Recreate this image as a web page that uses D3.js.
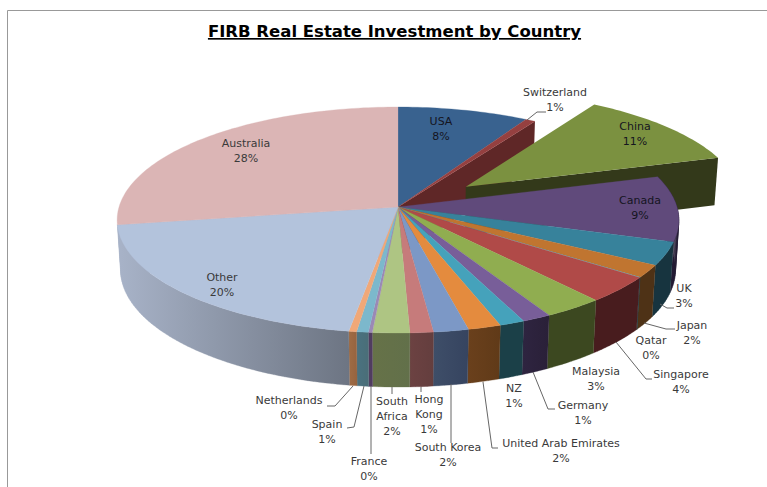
<!DOCTYPE html>
<html><head><meta charset="utf-8">
<style>html,body{margin:0;padding:0;background:#fff}svg{display:block}</style>
<script src="https://cdn.jsdelivr.net/npm/d3@7"></script></head>
<body><svg id="c" width="767" height="487"></svg>
<script>
const titleText = "FIRB Real Estate Investment by Country";
const categories = ["USA","Switzerland","China","Canada","UK","Japan","Qatar","Singapore","Malaysia","Germany","NZ","United Arab Emirates","South Korea","Hong Kong","South Africa","France","Spain","Netherlands","Other","Australia"];
const values = [8.4,0.65,11.45,9.4,3.3,1.8,0.05,3.75,3.1,1.5,1.3,1.7,1.8,1.2,1.9,0.2,0.6,0.4,20,27.5];
const percentLabels = ["8%","1%","11%","9%","3%","2%","0%","4%","3%","1%","1%","2%","2%","1%","2%","0%","1%","0%","20%","28%"];
const topColors = ["#39628f","#954040","#7b9140","#604a7b","#37829b","#c07530","#4bacc6","#b04a48","#90ad50","#785e99","#45a2bb","#e48b3e","#7c98c6","#c67b7b","#aec583","#9b89b5","#7cb8cc","#f0a878","#b3c3dc","#dbb5b5"];
const wallLeft = ["#1f3550","#5f2727","#33391a","#2a1f3c","#17343f","#4e3216","#1b4048","#481c1e","#3c4820","#2e2440","#1b4048","#6a401c","#3e4e68","#6c4242","#667248","#503c60","#4a7280","#a06c44","#a8b3c8","#b09090"];
const wallRight = ["#1f3550","#5f2727","#33391a","#201830","#17343f","#4e3216","#1b4048","#481c1e","#3c4820","#2a2038","#1b4048","#603a18","#364460","#643e3e","#62704a","#503c60","#4a6e78","#966440","#6d7583","#b09090"];
const explodeBy = {China: 0.31};
const darkLabels = ["USA","China","Canada"];

// label layout: [centre x, first line y], wrapped lines, leader polyline
const labelLines = {"Hong Kong":["Hong","Kong"],"South Africa":["South","Africa"]};
const labelPos = {USA:[441,122],Switzerland:[555,93],China:[635,127],Canada:[640,201],UK:[684,289],Japan:[692,326],Qatar:[651,341],Singapore:[681,375],Malaysia:[596,372],Germany:[583,406],NZ:[514,389],"United Arab Emirates":[561,444],"South Korea":[448,448],"Hong Kong":[429,400],"South Africa":[392,402],France:[369,462],Spain:[327,425],Netherlands:[289,401],Other:[222,278],Australia:[246,144]};
const leaders = [
 [[527,120],[537,112],[546,112]],
 [[660,304],[667,308],[674,308]],
 [[644,323],[666,329],[675,329]],
 [[616,342],[646,379],[652,379]],
 [[533,372],[548,409],[555,409]],
 [[483,382],[492,448],[498,448]],
 [[451,384],[451,443]],
 [[421,387],[421,392]],
 [[392,387],[392,394]],
 [[371,386],[371,454]],
 [[364,386],[354,427],[347,428]],
 [[353,386],[335,406],[327,406]]
];

const svg = d3.select("#c");
const cx = 398, cy = 207, R = 279, k = 111.5, p = 0.115, h = 50, q = 0.012;
// perspective projection of the flat pie disc
function proj(u, v, low) {
  const w = 1 - p * v + (low ? q : 0);
  return [cx + R * u / w, cy + (k * v + (low ? h : 0)) / w];
}
function pt(a, r, d, low) {
  const [du, dv] = d;
  return proj(r * Math.sin(a) + du, -r * Math.cos(a) + dv, low);
}
const line = d3.line();
const pie = d3.pie().sort(null).value(d => d.v).startAngle(0).endAngle(2 * Math.PI);
const arcs = pie(categories.map((n, i) => ({n, v: values[i], i})));
const offs = a => {
  const e = explodeBy[a.data.n] || 0, m = (a.startAngle + a.endAngle) / 2;
  return [e * Math.sin(m), -e * Math.cos(m)];
};
function rim(a, low) {
  const n = Math.max(2, Math.ceil((a.endAngle - a.startAngle) / 0.02)), o = offs(a);
  return d3.range(n + 1).map(j => pt(a.startAngle + (a.endAngle - a.startAngle) * j / n, 1, o, low));
}
function topPath(a) { return line([pt(0, 0, offs(a), false), ...rim(a, false)]) + "Z"; }
function radialWall(a) {
  const o = offs(a);
  return line([pt(0,0,o,false), pt(a.endAngle,1,o,false), pt(a.endAngle,1,o,true), pt(0,0,o,true)]) + "Z";
}
// union of small quads, so the silhouette of the wall has no gaps where top and bottom rims cross
function rimWall(a) {
  const t = rim(a,false), b = rim(a,true);
  return d3.range(t.length - 1).map(j => line([t[j],t[j+1],b[j+1],b[j]]) + "Z").join("");
}

const defs = svg.append("defs");
arcs.forEach(a => {
  const xs = [...rim(a,false)].map(d => d[0]);
  const g = defs.append("linearGradient").attr("id","w"+a.index).attr("gradientUnits","userSpaceOnUse")
    .attr("x1",d3.min(xs)).attr("x2",d3.max(xs)).attr("y1",0).attr("y2",0);
  g.append("stop").attr("offset",0).attr("stop-color",wallLeft[a.index]);
  g.append("stop").attr("offset",1).attr("stop-color",wallRight[a.index]);
});

// chart frame
svg.append("path").attr("d","M7.5 487V10.5H767").attr("fill","none").attr("stroke","#999").attr("stroke-width",1);

const byName = n => arcs[categories.indexOf(n)];
const china = byName("China"), swiss = byName("Switzerland"), other = byName("Other"), aus = byName("Australia");
svg.append("path").attr("d",radialWall(swiss)).attr("fill",wallLeft[swiss.index]);
svg.append("path").attr("d",radialWall(china)).attr("fill",wallLeft[china.index]);
svg.append("path").attr("d",topPath(china)).attr("fill",topColors[china.index]);
svg.append("path").attr("d",radialWall(other)).attr("fill",wallLeft[other.index]);
const rest = arcs.filter(a => a !== china);
svg.append("g").selectAll("path").data(rest.filter(a => a !== aus && a.endAngle > Math.PI/2)).join("path")
  .attr("d",rimWall).attr("fill",a => `url(#w${a.index})`).attr("stroke",a => `url(#w${a.index})`).attr("stroke-width",0.3);
svg.append("g").selectAll("path").data(rest).join("path")
  .attr("d",topPath).attr("fill",a => topColors[a.index]).attr("stroke",a => topColors[a.index]).attr("stroke-width",0.3);

// leader lines
svg.append("g").selectAll("path").data(leaders).join("path")
  .attr("d",d => line(d)).attr("fill","none").attr("stroke","#666").attr("stroke-width",1);

// data labels
const lbl = svg.append("g").attr("font-family","'DejaVu Sans',Verdana,sans-serif").attr("font-size",11).attr("text-anchor","middle");
categories.forEach((n,i) => {
  const [x,y] = labelPos[n];
  const ls = (labelLines[n] || [n]).concat(percentLabels[i]);
  const t = lbl.append("text").attr("dominant-baseline","middle").attr("fill",darkLabels.includes(n) ? "#15151f" : "#3a3a3a");
  ls.forEach((s,j) => t.append("tspan").attr("x",x).attr("y",y + j*15.2).text(s));
});

// title
svg.append("text").attr("x",394.5).attr("y",37).attr("text-anchor","middle")
  .attr("font-family","'DejaVu Sans',Verdana,sans-serif").attr("font-weight","bold").attr("font-size",16.5)
  .attr("text-decoration","underline").attr("fill","#000").text(titleText);
</script></body></html>
